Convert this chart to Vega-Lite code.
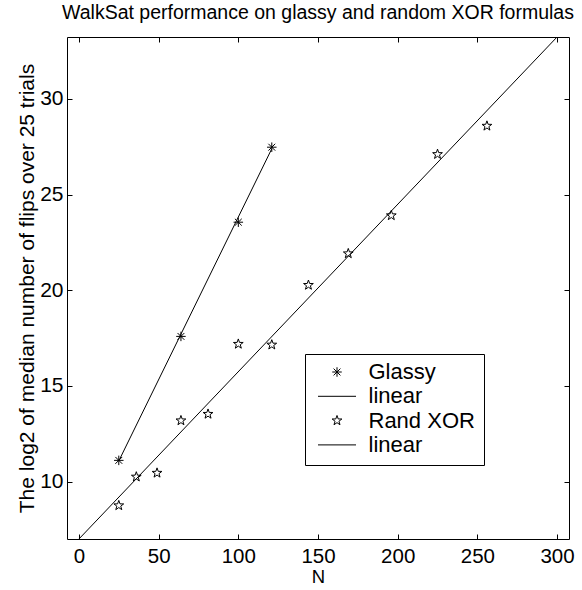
{
  "$schema": "https://vega.github.io/schema/vega-lite/v6.json",
  "width": 502,
  "height": 502,
  "autosize": {"type": "none"},
  "padding": {"left": 67, "top": 37, "right": 13, "bottom": 51},
  "background": "white",
  "title": {
    "text": "WalkSat performance on glassy and random XOR formulas",
    "anchor": "middle",
    "font": "Liberation Sans",
    "fontSize": 19.5,
    "fontWeight": "normal",
    "color": "black",
    "offset": 12
  },
  "config": {
    "view": {"stroke": null},
    "axis": {
      "domainColor": "black",
      "domainWidth": 1,
      "tickColor": "black",
      "tickWidth": 1,
      "tickSize": -5,
      "grid": false,
      "labelFont": "Liberation Sans",
      "labelFontSize": 21,
      "labelColor": "black",
      "titleFont": "Liberation Sans",
      "titleFontSize": 21,
      "titleFontWeight": "normal",
      "titleColor": "black"
    }
  },
  "datasets": {
    "points": [
      {"series": "Glassy", "N": 25, "flips": 11.11},
      {"series": "Glassy", "N": 64, "flips": 17.59},
      {"series": "Glassy", "N": 100, "flips": 23.56},
      {"series": "Glassy", "N": 121, "flips": 27.48},
      {"series": "Rand XOR", "N": 25, "flips": 8.75},
      {"series": "Rand XOR", "N": 36, "flips": 10.25},
      {"series": "Rand XOR", "N": 49, "flips": 10.45},
      {"series": "Rand XOR", "N": 64, "flips": 13.19},
      {"series": "Rand XOR", "N": 81, "flips": 13.53},
      {"series": "Rand XOR", "N": 100, "flips": 17.19},
      {"series": "Rand XOR", "N": 121, "flips": 17.15},
      {"series": "Rand XOR", "N": 144, "flips": 20.27},
      {"series": "Rand XOR", "N": 169, "flips": 21.92},
      {"series": "Rand XOR", "N": 196, "flips": 23.91},
      {"series": "Rand XOR", "N": 225, "flips": 27.11},
      {"series": "Rand XOR", "N": 256, "flips": 28.59}
    ],
    "fits": [
      {"series": "Glassy linear", "N": 25, "flips": 11.08},
      {"series": "Glassy linear", "N": 121, "flips": 27.4},
      {"series": "Rand XOR linear", "N": 0, "flips": 7.0},
      {"series": "Rand XOR linear", "N": 300, "flips": 33.24}
    ]
  },
  "layer": [
    {
      "data": {"name": "fits"},
      "mark": {"type": "line", "color": "black", "strokeWidth": 1},
      "encoding": {
        "x": {
          "field": "N", "type": "quantitative",
          "scale": {"domain": [-7.5, 307.5], "nice": false, "zero": false},
          "axis": {"orient": "bottom", "values": [0, 50, 100, 150, 200, 250, 300], "labelPadding": 12, "labelFontSize": 20.5, "title": "N", "titlePadding": 1, "titleFontSize": 18.5}
        },
        "y": {
          "field": "flips", "type": "quantitative",
          "scale": {"domain": [7, 33.24], "nice": false, "zero": false},
          "axis": {"orient": "left", "values": [10, 15, 20, 25, 30], "labelPadding": 9, "title": "The log2 of median number of flips over 25 trials", "titlePadding": 2}
        },
        "detail": {"field": "series"}
      }
    },
    {
      "data": {"name": "points"},
      "mark": {"type": "point", "filled": false, "stroke": "black", "strokeWidth": 1, "size": 1444, "opacity": 1},
      "encoding": {
        "x": {
          "field": "N", "type": "quantitative",
          "scale": {"domain": [-7.5, 307.5], "nice": false, "zero": false},
          "axis": {"orient": "top", "values": [0, 50, 100, 150, 200, 250, 300], "labels": false, "title": null}
        },
        "y": {
          "field": "flips", "type": "quantitative",
          "scale": {"domain": [7, 33.24], "nice": false, "zero": false},
          "axis": {"orient": "right", "values": [10, 15, 20, 25, 30], "labels": false, "title": null}
        },
        "shape": {
          "field": "series", "type": "nominal",
          "scale": {
            "domain": ["Glassy", "linear", "Rand XOR", "linear "],
            "range": [
              "M-0.25,0H0.25M0,-0.25V0.25M-0.18,-0.18L0.18,0.18M-0.18,0.18L0.18,-0.18",
              "M-1,0H1",
              "M0,-0.27L0.0635,-0.0874L0.2568,-0.0834L0.1027,0.0334L0.1587,0.2184L0,0.108L-0.1587,0.2184L-0.1027,0.0334L-0.2568,-0.0834L-0.0635,-0.0874Z",
              "M-1,0H1"
            ]
          },
          "legend": {
            "title": null,
            "orient": "none",
            "legendX": 238,
            "legendY": 317,
            "strokeColor": "black",
            "fillColor": "white",
            "padding": 8.5,
            "rowPadding": 1.3,
            "clipHeight": 19,
            "symbolSize": 1444,
            "symbolOffset": 4,
            "labelOffset": 12,
            "symbolStrokeColor": "black",
            "symbolStrokeWidth": 1,
            "labelFont": "Liberation Sans",
            "labelFontSize": 22,
            "labelColor": "black"
          }
        }
      }
    }
  ],
  "resolve": {"axis": {"x": "independent", "y": "independent"}}
}
